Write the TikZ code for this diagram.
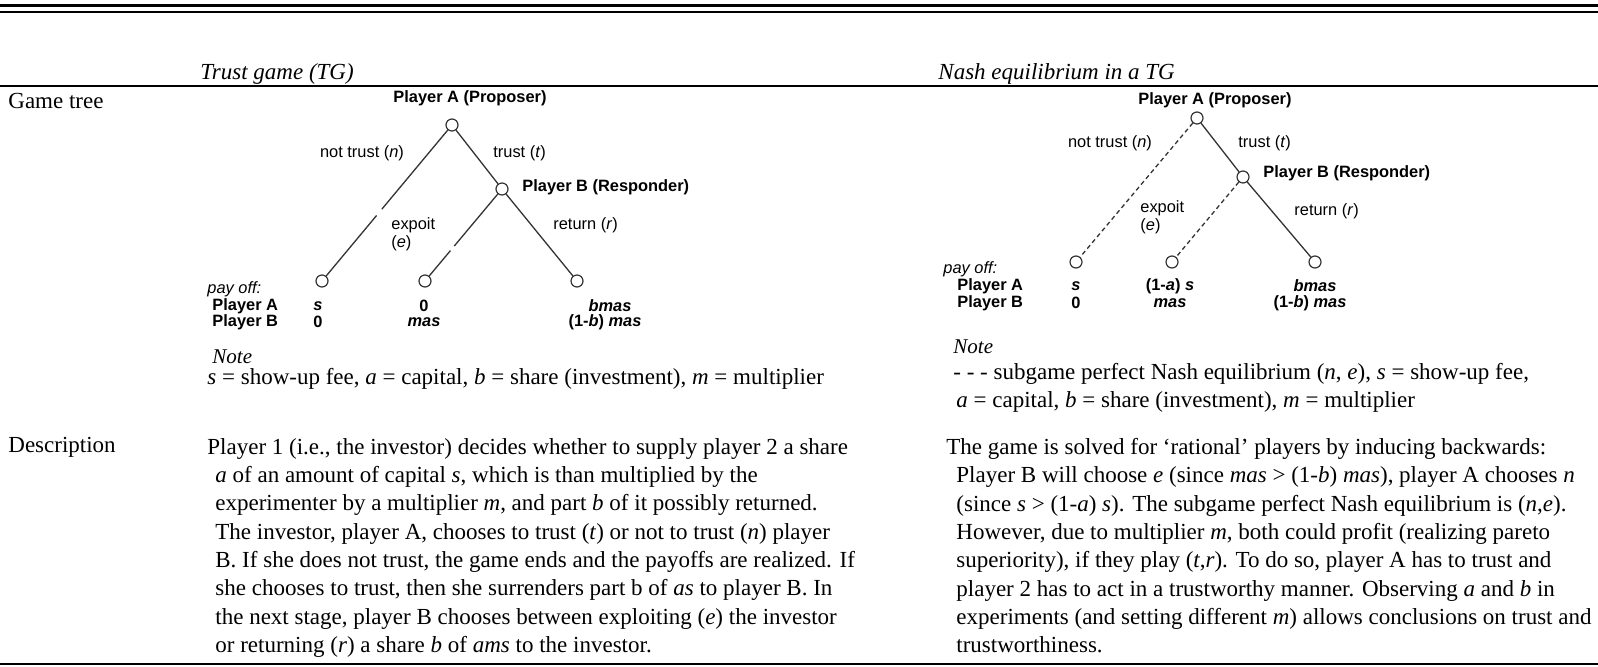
\documentclass[tikz,border=0pt]{standalone}
\usepackage{fontspec}
\setmainfont{Liberation Serif}
\newfontfamily\treefont{Liberation Sans}
\usetikzlibrary{calc}

\begin{document}
\begin{tikzpicture}
	[x=0.5pt,y=-0.5pt,
	every node/.style={inner sep=0pt},
	colhead/.style={anchor=west,font=\fontsize{11.5}{14}\selectfont\itshape},
	rowhead/.style={anchor=west,font=\fontsize{11.5}{14}\selectfont},
	para/.style={anchor=north west,align=left,font=\fontsize{11.5}{14.15}\selectfont},
	notehead/.style={anchor=west,font=\fontsize{10.5}{12}\selectfont\itshape},
	move/.style={draw=black!80,circle,minimum size=6pt,line width=.6pt},
	branch/.style={draw=black!80,line width=.65pt},
	spne/.style={branch,dash pattern=on 2.2pt off 1.6pt},
	choice/.style={font=\treefont\fontsize{8.2}{9}\selectfont},
	player/.style={font=\treefont\bfseries\fontsize{8.2}{9}\selectfont},
	payoff/.style={font=\treefont\bfseries\fontsize{8.2}{9}\selectfont}]
	\useasboundingbox (0,0) rectangle (1598,667);
	% rules of the table
	\draw[line width=1.1pt] (0,5.5) -- (1598,5.5);
	\draw[line width=.9pt] (0,12) -- (1598,12);
	\draw[line width=1pt] (0,86) -- (1598,86);
	\draw[line width=1.2pt] (0,664) -- (1598,664);
	% heads
	\node[colhead] (tg) at (200,74) {Trust game (TG)};
	\node[colhead] (ne) at (938,74) {Nash equilibrium in a TG};
	\node[rowhead] (gametree) at (8,101) {Game tree};
	\node[rowhead] (description) at (8,447) {Description};

	% left tree
	\node[move] (aL) at (452,125) {};
	\node[move] (bL) at (502,189) {};
	\node[move] (nL) at (322,281) {};
	\node[move] (eL) at (425,281) {};
	\node[move] (rL) at (577,281) {};
	\draw[branch] (aL) -- ($(aL)!.54!(nL)$) ($(aL)!.58!(nL)$) -- (nL);
	\draw[branch] (aL) -- (bL);
	\draw[branch] (bL) -- ($(bL)!.62!(eL)$) ($(bL)!.67!(eL)$) -- (eL);
	\draw[branch] (bL) -- (rL);
	\node[player] (aLname) at (470,98) {Player A (Proposer)};
	\node[player,anchor=west] (bLname) at (522,187) {Player B (Responder)};
	\node[choice] (nLlab) at (362,153) {not trust (\textit{n})};
	\node[choice,anchor=west] (tLlab) at (493,153) {trust (\textit{t})};
	\node[choice,anchor=west,align=left] (eLlab) at (391,234) {expoit\\(\textit{e})};
	\node[choice,anchor=west] (rLlab) at (553,225) {return (\textit{r})};
	\node[choice,anchor=west] (payL) at (207,289) {\textit{pay off:}};
	\node[player,anchor=west] (pAL) at (212,306) {Player A};
	\node[player,anchor=west] (pBL) at (212,322) {Player B};
	\node[payoff,anchor=west] (nAL) at (313,306) {\textit{s}};
	\node[payoff,anchor=west] (nBL) at (313,322) {0};
	\node[payoff] (eAL) at (424,306) {0};
	\node[payoff] (eBL) at (424,322) {\textit{mas}};
	\node[payoff] (rAL) at (610,306) {\textit{bmas}};
	\node[payoff] (rBL) at (605,322) {(1-\textit{b}) \textit{mas}};
	\node[notehead] (noteL) at (212,357) {Note};
	\node[rowhead] (keyL) at (207,379) {\textit{s} = show-up fee, \textit{a} = capital, \textit{b} = share (investment), \textit{m} = multiplier};

	% right tree
	\node[move] (aR) at (1197,118) {};
	\node[move] (bR) at (1243,177) {};
	\node[move] (nR) at (1076,262) {};
	\node[move] (eR) at (1172,262) {};
	\node[move] (rR) at (1315,262) {};
	\draw[spne] (aR) -- (nR);
	\draw[branch] (aR) -- (bR);
	\draw[spne] (bR) -- (eR);
	\draw[branch] (bR) -- (rR);
	\node[player] (aRname) at (1215,100) {Player A (Proposer)};
	\node[player,anchor=west] (bRname) at (1263,173) {Player B (Responder)};
	\node[choice] (nRlab) at (1110,143) {not trust (\textit{n})};
	\node[choice,anchor=west] (tRlab) at (1238,143) {trust (\textit{t})};
	\node[choice,anchor=west,align=left] (eRlab) at (1140,217) {expoit\\(\textit{e})};
	\node[choice,anchor=west] (rRlab) at (1294,211) {return (\textit{r})};
	\node[choice,anchor=west] (payR) at (943,269) {\textit{pay off:}};
	\node[player,anchor=west] (pAR) at (957,286) {Player A};
	\node[player,anchor=west] (pBR) at (957,303) {Player B};
	\node[payoff,anchor=west] (nAR) at (1071,286) {\textit{s}};
	\node[payoff,anchor=west] (nBR) at (1071,303) {0};
	\node[payoff] (eAR) at (1170,286) {(1-\textit{a}) \textit{s}};
	\node[payoff] (eBR) at (1170,303) {\textit{mas}};
	\node[payoff] (rAR) at (1315,286) {\textit{bmas}};
	\node[payoff] (rBR) at (1310,303) {(1-\textit{b}) \textit{mas}};
	\node[notehead] (noteR) at (953,347) {Note};
	\node[para] (keyR) at (953,363) {- - - subgame perfect Nash equilibrium (\textit{n}, \textit{e}), \textit{s} = show-up fee,\\
		\hspace*{1.5pt}\textit{a} = capital, \textit{b} = share (investment), \textit{m} = multiplier};

	% description texts
	\node[para] (descTG) at (207,438) {Player 1 (i.e., the investor) decides whether to supply player 2 a share\\
		\hspace*{4pt}\textit{a} of an amount of capital \textit{s}, which is than multiplied by the\\
		\hspace*{4pt}experimenter by a multiplier \textit{m}, and part \textit{b} of it possibly returned.\\
		\hspace*{4pt}The investor, player A, chooses to trust (\textit{t}) or not to trust (\textit{n}) player\\
		\hspace*{4pt}B. If she does not trust, the game ends and the payoffs are realized. If\\
		\hspace*{4pt}she chooses to trust, then she surrenders part b of \textit{as} to player B. In\\
		\hspace*{4pt}the next stage, player B chooses between exploiting (\textit{e}) the investor\\
		\hspace*{4pt}or returning (\textit{r}) a share \textit{b} of \textit{ams} to the investor.};
	\node[para] (descNE) at (946,438) {The game is solved for ‘rational’ players by inducing backwards:\\
		\hspace*{5pt}Player B will choose \textit{e} (since \textit{mas} > (1-\textit{b}) \textit{mas}), player A chooses \textit{n}\\
		\hspace*{5pt}(since \textit{s} > (1-\textit{a}) \textit{s}). The subgame perfect Nash equilibrium is (\textit{n},\textit{e}).\\
		\hspace*{5pt}However, due to multiplier \textit{m}, both could profit (realizing pareto\\
		\hspace*{5pt}superiority), if they play (\textit{t},\textit{r}). To do so, player A has to trust and\\
		\hspace*{5pt}player 2 has to act in a trustworthy manner. Observing \textit{a} and \textit{b} in\\
		\hspace*{5pt}experiments (and setting different \textit{m}) allows conclusions on trust and\\
		\hspace*{5pt}trustworthiness.};
\end{tikzpicture}
\end{document}
